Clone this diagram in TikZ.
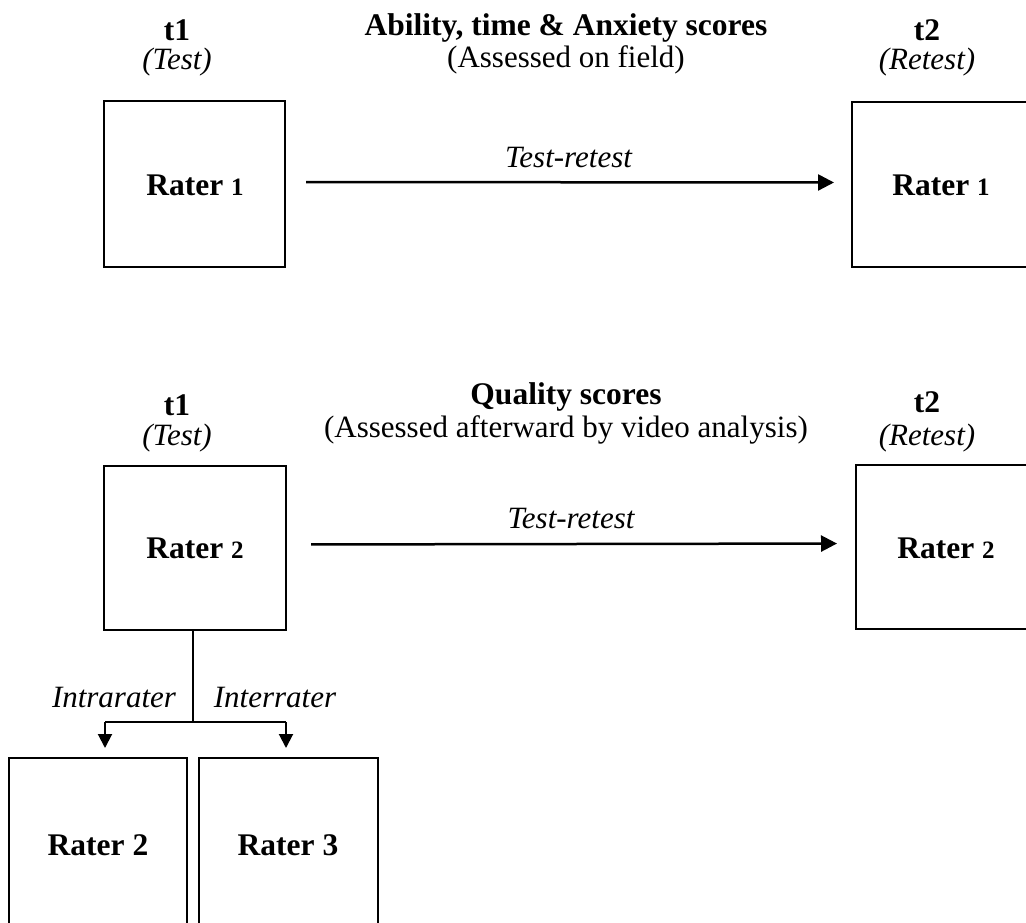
\documentclass[tikz,border=0pt]{standalone}
\usepackage{fontspec}
\setmainfont{Liberation Serif}
\usetikzlibrary{arrows.meta}
\begin{document}
\begin{tikzpicture}[x=1pt,y=-1pt,
  lbl/.style={inner sep=0pt, font=\fontsize{31}{36}\selectfont},
  bf/.style={inner sep=0pt, font=\fontsize{31.5}{36}\selectfont\bfseries},
  it/.style={inner sep=0pt, font=\fontsize{31}{36}\selectfont\itshape},
  box/.style={draw, line width=2pt, rectangle, inner sep=0pt},
  conn/.style={line width=2.5pt, -{Triangle[length=16pt,width=16pt]}},
  branch/.style={line width=2pt},
  down/.style={line width=2pt, -{Triangle[length=14pt,width=14pt]}, shorten >=9pt},
]
\useasboundingbox (0,0) rectangle (1026,922);
\clip (0,0) rectangle (1026,922);
\fill[white] (0,0) rectangle (1026,922);

% ---------- top section ----------
\node[bf] (t1a) at (177,30) {t1};
\node[it] (testa) at (177,62) {(Test)};
\node[bf] (titlea) at (566,28) {Ability, time \& Anxiety scores};
\node[lbl] (suba) at (566,60) {(Assessed on field)};
\node[bf] (t2a) at (927,30) {t2};
\node[it] (reta) at (927,62) {(Retest)};

\node[box, minimum width=181pt, minimum height=166pt] (b1) at (194.5,184) {};
\node[bf] (r1) at (195,185) {Rater {\fontsize{25}{30}\selectfont 1}};
\node[box, minimum width=188pt, minimum height=165pt] (b2) at (946,184.5) {};
\node[bf] (r2) at (941,185) {Rater {\fontsize{25}{30}\selectfont 1}};

\draw[conn, shorten <=20pt, shorten >=17pt] ([yshift=2pt]b1.east) -- ([yshift=2pt]b2.west)
  node[it, midway, above=13pt] (tra) {Test-retest};

% ---------- lower section ----------
\node[bf] (t1b) at (177,405) {t1};
\node[it] (testb) at (177,438) {(Test)};
\node[bf] (titleb) at (566,397) {Quality scores};
\node[lbl] (subb) at (566,430) {(Assessed afterward by video analysis)};
\node[bf] (t2b) at (927,402) {t2};
\node[it] (retb) at (927,438) {(Retest)};

\node[box, minimum width=182pt, minimum height=164pt] (b3) at (195,548) {};
\node[bf] (r3) at (195,548) {Rater {\fontsize{25}{30}\selectfont 2}};
\node[box, minimum width=184pt, minimum height=164pt] (b4) at (948,547) {};
\node[bf] (r4) at (946,548) {Rater {\fontsize{25}{30}\selectfont 2}};

\draw[conn, shorten <=24pt, shorten >=18pt] ([yshift=3.5pt]b3.east) -- ([yshift=3.5pt]b4.west)
  node[it, midway, above=14pt] (trb) {Test-retest};

% ---------- bottom boxes ----------
\node[box, minimum width=178pt, minimum height=182pt] (b5) at (98,849) {};
\node[bf] (r5) at (98,845) {Rater 2};
\node[box, minimum width=179pt, minimum height=182pt] (b6) at (288.5,849) {};
\node[bf] (r6) at (288,845) {Rater 3};

\coordinate (j) at (193,722);
\coordinate (jl) at (105,722);
\coordinate (jr) at (286,722);
\draw[branch] (b3.south -| j) -- (j);
\draw[branch] (jl) -- (jr);
\draw[down] (jl) -- (jl |- b5.north);
\draw[down] (jr) -- (jr |- b6.north);

\node[it] (intra) at (114,697) {Intrarater};
\node[it] (inter) at (275,697) {Interrater};
\end{tikzpicture}
\end{document}
